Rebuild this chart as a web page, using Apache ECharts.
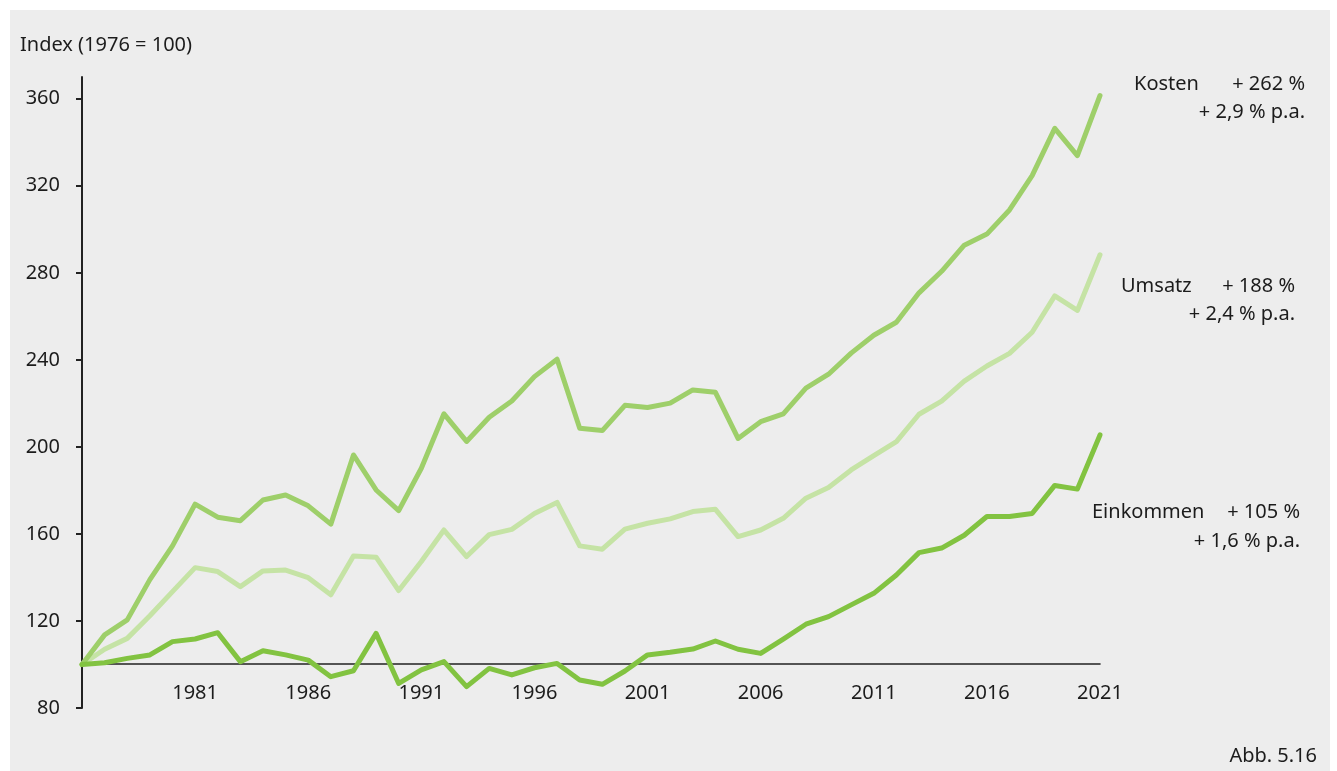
<!DOCTYPE html>
<html>
<head>
<meta charset="utf-8">
<script src="https://cdn.jsdelivr.net/npm/echarts@6/dist/echarts.min.js"></script>
<style>
  html, body { margin: 0; padding: 0; background: #ffffff; }
  #bg { position: absolute; left: 10px; top: 10px; width: 1320px; height: 761px; background: #ededed; }
  #chart { position: absolute; left: 0; top: 0; width: 1337px; height: 771px; }
</style>
</head>
<body>
<div id="bg"></div>
<div id="chart"></div>
<script>
const years = [];
for (let y = 1976; y <= 2021; y++) years.push(String(y));

const kosten = [100, 113.6, 120.5, 139, 154.5, 173.7, 167.7, 166.1, 175.6, 177.9,
  172.9, 164.5, 196.3, 180.2, 170.7, 190.2, 215.2, 202.5, 213.6, 221.1,
  232.3, 240.3, 208.6, 207.5, 219.1, 218.1, 220.1, 226.2, 225.1, 203.9,
  211.6, 215.2, 227, 233.4, 243.1, 251.3, 257.3, 270.8, 280.7, 292.7,
  297.8, 308.9, 324.7, 346.4, 333.9, 361.5];

const umsatz = [100, 107, 112, 122.4, 133.5, 144.5, 142.7, 135.8, 143, 143.4,
  139.9, 132, 149.9, 149.3, 134, 147.3, 161.8, 149.6, 159.7, 162.1,
  169.4, 174.5, 154.5, 153, 162.2, 164.9, 166.9, 170.3, 171.3, 158.8,
  161.8, 167.2, 176.4, 181.3, 189.4, 196, 202.4, 215, 221, 230.2,
  237.2, 243, 252.7, 269.4, 262.7, 288.3];

const einkommen = [100, 100.8, 102.8, 104.4, 110.5, 111.7, 114.6, 101.3, 106.3, 104.4,
  102, 94.4, 97.1, 114.3, 91.3, 97.5, 101.3, 89.8, 98.2, 95.2,
  98.5, 100.5, 92.9, 90.9, 97, 104.4, 105.6, 107.1, 110.8, 107,
  105.1, 111.7, 118.5, 122, 127.4, 132.7, 141.1, 151.4, 153.5, 159.4,
  168, 168, 169.4, 182.3, 180.6, 205.5];

const yTicks = [80, 120, 160, 200, 240, 280, 320, 360];

const annotations = [
  { name: 'Kosten', total: '+ 262 %', pa: '+ 2,9 % p.a.', nameX: 1134, right: 1305, y1: 84, y2: 112 },
  { name: 'Umsatz', total: '+ 188 %', pa: '+ 2,4 % p.a.', nameX: 1121, right: 1295, y1: 286, y2: 314 },
  { name: 'Einkommen', total: '+ 105 %', pa: '+ 1,6 % p.a.', nameX: 1092, right: 1300, y1: 512, y2: 541 }
];

const FONT = 'Noto Sans';
const TXT = '#1c1c1c';
const FS = 20;
const F = FS + 'px "' + FONT + '"';

const graphics = [
  { type: 'text', x: 20, y: 45, style: { text: 'Index (1976 = 100)', font: F, fill: TXT, textVerticalAlign: 'middle' } },
  { type: 'text', x: 1317, y: 756, style: { text: 'Abb. 5.16', font: F, fill: TXT, textAlign: 'right', textVerticalAlign: 'middle' } }
];
annotations.forEach(a => {
  graphics.push({ type: 'text', x: a.nameX, y: a.y1, style: { text: a.name, font: F, fill: TXT, textAlign: 'left', textVerticalAlign: 'middle' } });
  graphics.push({ type: 'text', x: a.right, y: a.y1, style: { text: a.total, font: F, fill: TXT, textAlign: 'right', textVerticalAlign: 'middle' } });
  graphics.push({ type: 'text', x: a.right, y: a.y2, style: { text: a.pa, font: F, fill: TXT, textAlign: 'right', textVerticalAlign: 'middle' } });
});

const chart = echarts.init(document.getElementById('chart'), null, { renderer: 'canvas' });
chart.setOption({
  backgroundColor: 'transparent',
  animation: false,
  textStyle: { fontFamily: FONT },
  grid: { left: 82, right: 237, top: 77, bottom: 63, containLabel: false },
  xAxis: {
    type: 'category',
    data: years,
    boundaryGap: false,
    offset: -44,
    axisLine: { show: true, lineStyle: { color: '#222', width: 1.6 } },
    axisTick: { show: false },
    splitLine: { show: false },
    axisLabel: {
      interval: function (idx) { return idx > 0 && idx % 5 === 0; },
      margin: 19,
      fontSize: FS,
      color: TXT,
      fontFamily: FONT
    }
  },
  yAxis: {
    type: 'value',
    min: 80,
    max: 370,
    interval: 40,
    axisLine: { show: true, lineStyle: { color: '#222', width: 2 } },
    axisTick: { show: true, customValues: yTicks, length: 6, inside: false, lineStyle: { color: '#222', width: 2 } },
    axisLabel: { customValues: yTicks, margin: 22, fontSize: FS, color: TXT, fontFamily: FONT },
    splitLine: { show: false }
  },
  series: [
    { name: 'Umsatz', type: 'line', data: umsatz, showSymbol: false, symbol: 'none',
      lineStyle: { color: '#c5e3a5', width: 5, cap: 'round', join: 'round' }, z: 3 },
    { name: 'Kosten', type: 'line', data: kosten, showSymbol: false, symbol: 'none',
      lineStyle: { color: '#9ecf6a', width: 5, cap: 'round', join: 'round' }, z: 4 },
    { name: 'Einkommen', type: 'line', data: einkommen, showSymbol: false, symbol: 'none',
      lineStyle: { color: '#82c341', width: 5, cap: 'round', join: 'round' }, z: 5 }
  ],
  graphic: graphics
});
</script>
</body>
</html>
